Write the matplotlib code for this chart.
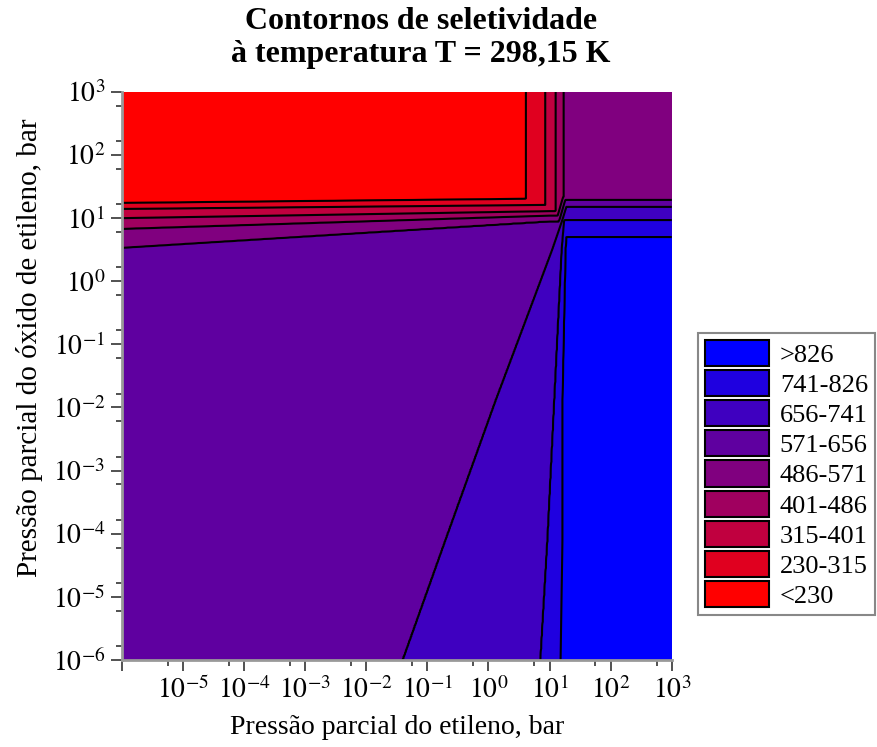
import numpy as np
import matplotlib.pyplot as plt
from matplotlib.patches import Patch
from matplotlib.ticker import NullFormatter

# Contour levels of the selectivity and legend entries
levels = [230, 315, 401, 486, 571, 656, 741, 826]
s_min, s_max = 145, 911
colors = ['#FF0000', '#E0001F', '#C0003F', '#A0005F', '#80007F',
          '#5F00A0', '#3F00C0', '#1F00E0', '#0000FF']  # low -> high
labels = ['<230', '230-315', '315-401', '401-486', '486-571',
          '571-656', '656-741', '741-826', '>826']

# Contour positions, in log10(bar)
# top edge: ethylene pressure where each level is crossed
top_u = [0.45, 0.61, 0.93, 1.10, 1.23, 1.30]
top_s = [145, 230, 315, 401, 486, 530]
# left part: oxide pressure of each level at x=1e-6 and near the corner
left_s = [620, 571, 486, 401, 315, 230, 145]
left_v0 = [0.23, 0.53, 0.83, 1.00, 1.146, 1.24, 1.40]
left_v1 = [0.65, 0.95, 1.04, 1.11, 1.21, 1.31, 1.45]
# right edge: oxide pressure of each level at x=1e3
right_v = [0.45, 0.70, 0.97, 1.18, 1.29, 1.33, 1.45]
right_s = [911, 826, 741, 656, 571, 486, 145]
# lower part: ethylene pressure of the 656, 741 and 826 lines vs oxide pressure
line_v = [-6, -4.1, -1.88, 0.5, 1.0, 1.3, 3.0]
u656 = [-1.41, -0.71, 0.115, 1.04, 1.22, 1.31, 1.95]
u741 = [0.852, 0.967, 1.08, 1.20, 1.24, 1.40, 2.0]
u826 = [1.18, 1.21, 1.21, 1.26, 1.29, 1.45, 2.1]

# Build the selectivity field on a log grid
u = np.linspace(-6, 3, 700)
v = np.linspace(-6, 3, 700)
U, V = np.meshgrid(u, v)

Tp = np.interp(U, top_u, top_s)
L = np.empty_like(U)
t = np.clip((u + 6) / 7, 0, 1)
for j, tj in enumerate(t):
    vs = (1 - tj) * np.array(left_v0) + tj * np.array(left_v1)
    L[:, j] = np.interp(v, vs, left_s)
upper = np.maximum(Tp, L)

R = np.interp(V, right_v, right_s)
Bx = np.empty_like(U)
for i, vi in enumerate(v):
    a = np.interp(vi, line_v, u656)
    b = np.interp(vi, line_v, u741)
    c = np.interp(vi, line_v, u826)
    Bx[i, :] = np.interp(u, [a - 0.3, a, b, c, c + 0.3],
                         [s_min, 656, 741, 826, s_max])
lower = np.minimum(Bx, R)
S = np.maximum(upper, lower)

plt.rcParams['font.family'] = ['Liberation Serif', 'DejaVu Serif']
plt.rcParams['mathtext.fontset'] = 'stix'

fig = plt.figure(figsize=(8.77, 7.47), dpi=100)
ax = fig.add_axes([0.139, 0.1165, 0.627, 0.7605])

X, Y = 10.0 ** U, 10.0 ** V
ax.contourf(X, Y, S, levels=[s_min - 1] + levels + [s_max + 1], colors=colors)
ax.contour(X, Y, S, levels=levels, colors='black', linewidths=1.5)

ax.set_xscale('log')
ax.set_yscale('log')
ax.set_xlim(1e-6, 1e3)
ax.set_ylim(1e-6, 1e3)

# ticks
dec = np.arange(-6, 4)
ax.set_xticks(10.0 ** dec)
ax.set_xticklabels([''] + ['$10^{%d}$' % k for k in dec[1:]])
ax.set_yticks(10.0 ** dec)
ax.set_yticklabels(['$10^{%d}$' % k for k in dec])
ax.set_xticks(10.0 ** (dec[:-1] + 0.75), minor=True)
ax.set_yticks(np.concatenate([10.0 ** (dec[:-1] + 0.22),
                              10.0 ** (dec[:-1] + 0.78)]), minor=True)
ax.xaxis.set_minor_formatter(NullFormatter())
ax.yaxis.set_minor_formatter(NullFormatter())
ax.tick_params(which='major', direction='out', length=8, width=1.2,
               color='#333333', labelsize=20, pad=4)
ax.tick_params(which='minor', direction='out', length=4, width=1.2,
               color='#333333')

for side in ['top', 'right']:
    ax.spines[side].set_visible(False)
for side in ['left', 'bottom']:
    ax.spines[side].set_color('#999999')
    ax.spines[side].set_linewidth(2)

# titles and labels
fig.text(0.48, 1 - 38 / 747, 'Contornos de seletividade\nà temperatura T = 298,15 K',
         ha='center', va='center', fontsize=23, fontweight='bold',
         linespacing=1.15)
fig.text(397 / 877, 1 - 728 / 747, 'Pressão parcial do etileno, bar',
         ha='center', va='center', fontsize=20)
fig.text(30 / 877, 1 - 348 / 747, 'Pressão parcial do óxido de etileno, bar',
         ha='center', va='center', fontsize=21, rotation=90)

# legend
handles = [Patch(facecolor=c, edgecolor='black', linewidth=1.5)
           for c in colors[::-1]]
leg = fig.legend(handles, labels[::-1], loc='upper left',
                 bbox_to_anchor=(698 / 877, 1 - 333 / 747), borderaxespad=0,
                 fontsize=19, handlelength=2.45, handleheight=1.15,
                 labelspacing=0.12, handletextpad=0.4, borderpad=0.25,
                 fancybox=False, framealpha=1)
leg.get_frame().set_edgecolor('#888888')
leg.get_frame().set_linewidth(1.5)

fig.savefig('out.png', dpi=100)
